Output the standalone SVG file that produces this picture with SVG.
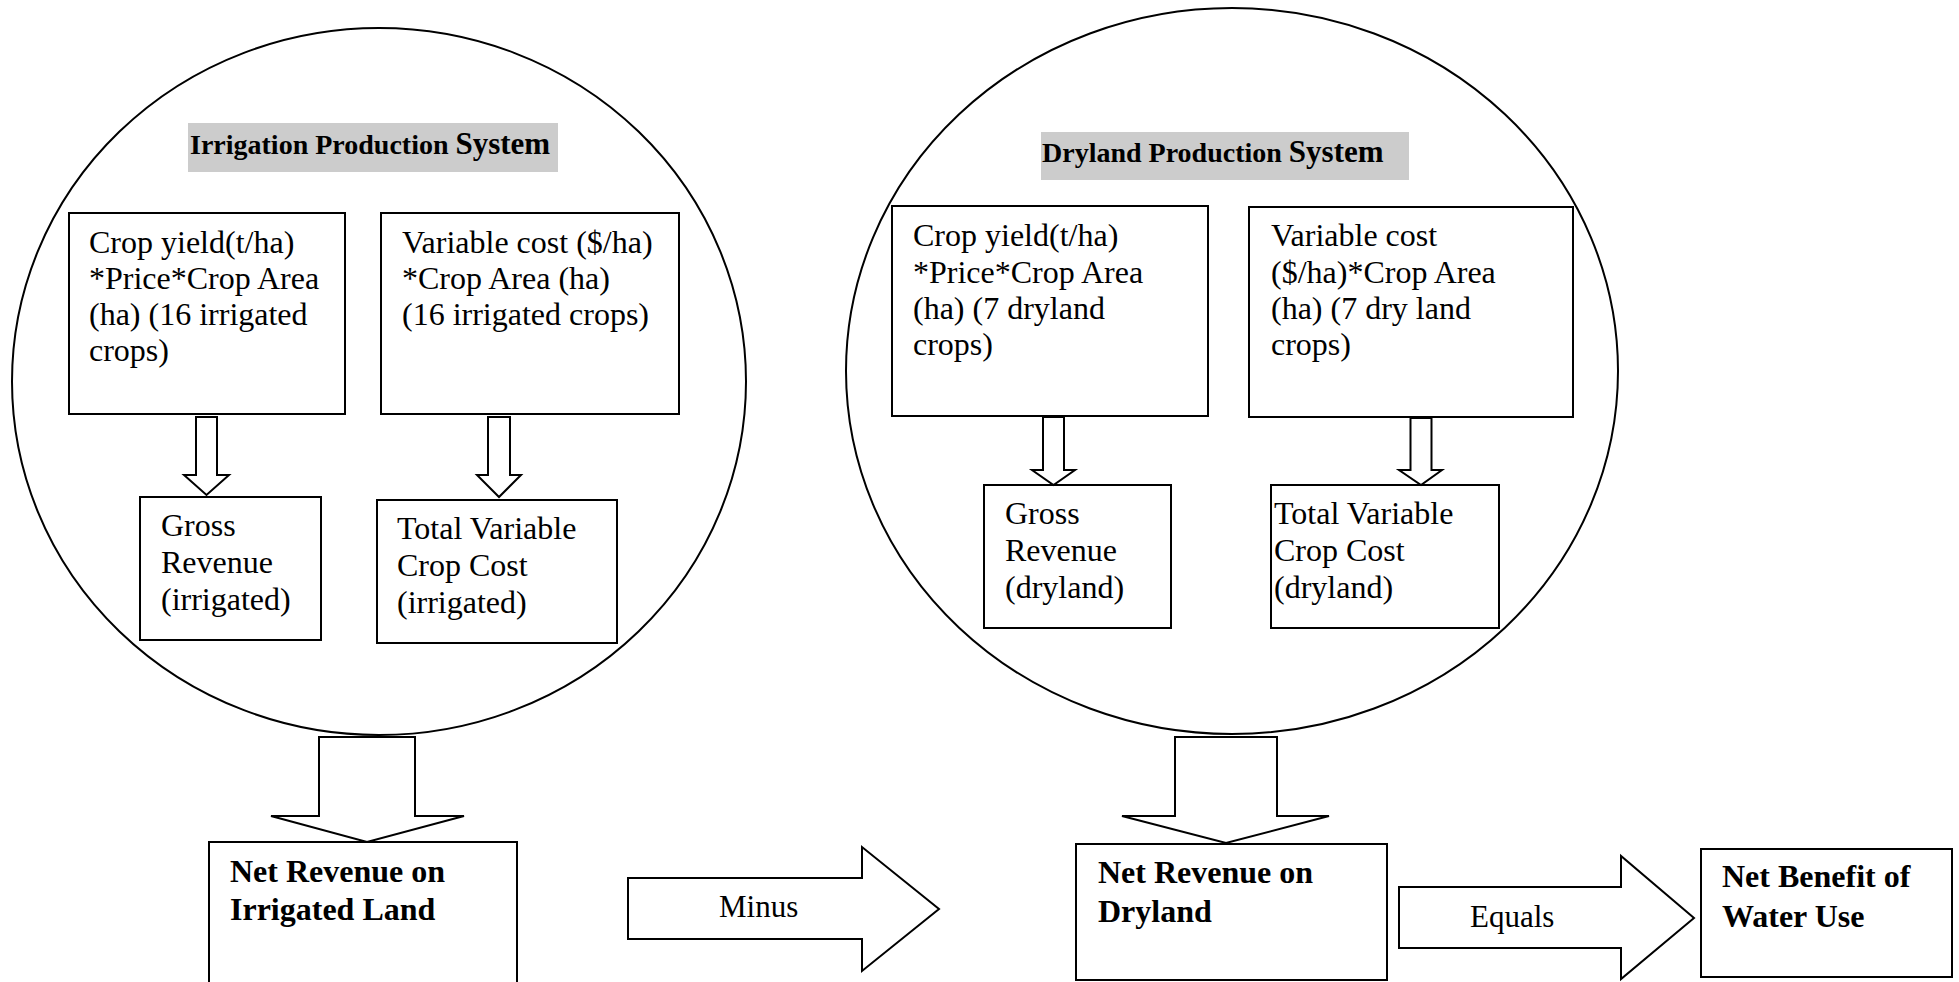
<svg xmlns="http://www.w3.org/2000/svg" width="1959" height="982" viewBox="0 0 1959 982">
<style>
  .sys { fill: none; stroke: #000; stroke-width: 2; }
  .box { fill: #fff; stroke: #000; stroke-width: 2; }
  .hdr { fill: #cccccc; stroke: none; }
  .arr { fill: #fff; stroke: #000; stroke-width: 2; stroke-linejoin: miter; }
  text { font-family: "Liberation Serif", "Times New Roman", serif; fill: #000; }
  .t { font-size: 32px; }
  .b { font-size: 32px; font-weight: bold; }
  .h { font-size: 28px; font-weight: bold; }
  .hs { font-size: 31px; }
  .lbl { font-size: 31px; }
</style>
<rect width="1959" height="982" fill="#fff"/>

<g id="irrigation-system">
  <ellipse class="sys" cx="379" cy="381.5" rx="367" ry="353.5"/>
  <rect class="hdr" x="188" y="123" width="370" height="49"/>
  <text class="h" x="190" y="154">Irrigation Production <tspan class="hs">System</tspan></text>
</g>

<g id="dryland-system">
  <ellipse class="sys" cx="1232" cy="371" rx="386" ry="363"/>
  <rect class="hdr" x="1041" y="132" width="368" height="48"/>
  <text class="h" x="1042" y="162">Dryland Production <tspan class="hs">System</tspan></text>
</g>

<g id="irr-yield">
  <rect class="box" x="69" y="213" width="276" height="201"/>
  <text class="t" x="89" y="253">Crop yield(t/ha)</text>
  <text class="t" x="89" y="289">*Price*Crop Area</text>
  <text class="t" x="89" y="325">(ha) (16 irrigated</text>
  <text class="t" x="89" y="361">crops)</text>
</g>

<g id="irr-cost">
  <rect class="box" x="381" y="213" width="298" height="201"/>
  <text class="t" x="402" y="253">Variable cost ($/ha)</text>
  <text class="t" x="402" y="289">*Crop Area (ha)</text>
  <text class="t" x="402" y="325">(16 irrigated crops)</text>
</g>

<g id="irr-gross">
  <rect class="box" x="140" y="497" width="181" height="143"/>
  <text class="t" x="161" y="536">Gross</text>
  <text class="t" x="161" y="573">Revenue</text>
  <text class="t" x="161" y="610">(irrigated)</text>
</g>

<g id="irr-total">
  <rect class="box" x="377" y="500" width="240" height="143"/>
  <text class="t" x="397" y="539">Total Variable</text>
  <text class="t" x="397" y="576">Crop Cost</text>
  <text class="t" x="397" y="613">(irrigated)</text>
</g>

<g id="dry-yield">
  <rect class="box" x="892" y="206" width="316" height="210"/>
  <text class="t" x="913" y="246">Crop yield(t/ha)</text>
  <text class="t" x="913" y="283">*Price*Crop Area</text>
  <text class="t" x="913" y="319">(ha) (7 dryland</text>
  <text class="t" x="913" y="355">crops)</text>
</g>

<g id="dry-cost">
  <rect class="box" x="1249" y="207" width="324" height="210"/>
  <text class="t" x="1271" y="246">Variable cost</text>
  <text class="t" x="1271" y="283">($/ha)*Crop Area</text>
  <text class="t" x="1271" y="319">(ha) (7 dry land</text>
  <text class="t" x="1271" y="355">crops)</text>
</g>

<g id="dry-gross">
  <rect class="box" x="984" y="485" width="187" height="143"/>
  <text class="t" x="1005" y="524">Gross</text>
  <text class="t" x="1005" y="561">Revenue</text>
  <text class="t" x="1005" y="598">(dryland)</text>
</g>

<g id="dry-total">
  <rect class="box" x="1271" y="485" width="228" height="143"/>
  <text class="t" x="1274" y="524">Total Variable</text>
  <text class="t" x="1274" y="561">Crop Cost</text>
  <text class="t" x="1274" y="598">(dryland)</text>
</g>

<g id="net-irrigated">
  <rect class="box" x="209" y="842" width="308" height="160"/>
  <text class="b" x="230" y="882">Net Revenue on</text>
  <text class="b" x="230" y="920">Irrigated Land</text>
</g>

<g id="net-dryland">
  <rect class="box" x="1076" y="844" width="311" height="136"/>
  <text class="b" x="1098" y="883">Net Revenue on</text>
  <text class="b" x="1098" y="922">Dryland</text>
</g>

<g id="net-benefit">
  <rect class="box" x="1701" y="849" width="251" height="128"/>
  <text class="b" x="1722" y="887">Net Benefit of</text>
  <text class="b" x="1722" y="927">Water Use</text>
</g>

<g id="connectors">
  <polygon class="arr" points="196,417 217,417 217,475 229,475 206.5,495 184,475 196,475"/>
  <polygon class="arr" points="488,417 510,417 510,475 521,475 499,497 477,475 488,475"/>
  <polygon class="arr" points="1043,417 1064,417 1064,470 1075,470 1053.5,485 1032,470 1043,470"/>
  <polygon class="arr" points="1410.5,418 1431.5,418 1431.5,470 1442,470 1421,485 1399,470 1410.5,470"/>
  <polygon class="arr" points="319,737 415,737 415,816 464,816 367,842 271,816 319,816"/>
  <polygon class="arr" points="1175,737 1277,737 1277,816 1329,816 1226,843 1122,816 1175,816"/>
  <g id="minus-arrow">
    <polygon class="arr" points="628,878 862,878 862,847 939,909 862,971 862,939 628,939"/>
    <text class="lbl" x="719" y="917">Minus</text>
  </g>
  <g id="equals-arrow">
    <polygon class="arr" points="1399,887 1621,887 1621,856 1694,918 1621,979 1621,948 1399,948"/>
    <text class="lbl" x="1470" y="927">Equals</text>
  </g>
</g>
</svg>
